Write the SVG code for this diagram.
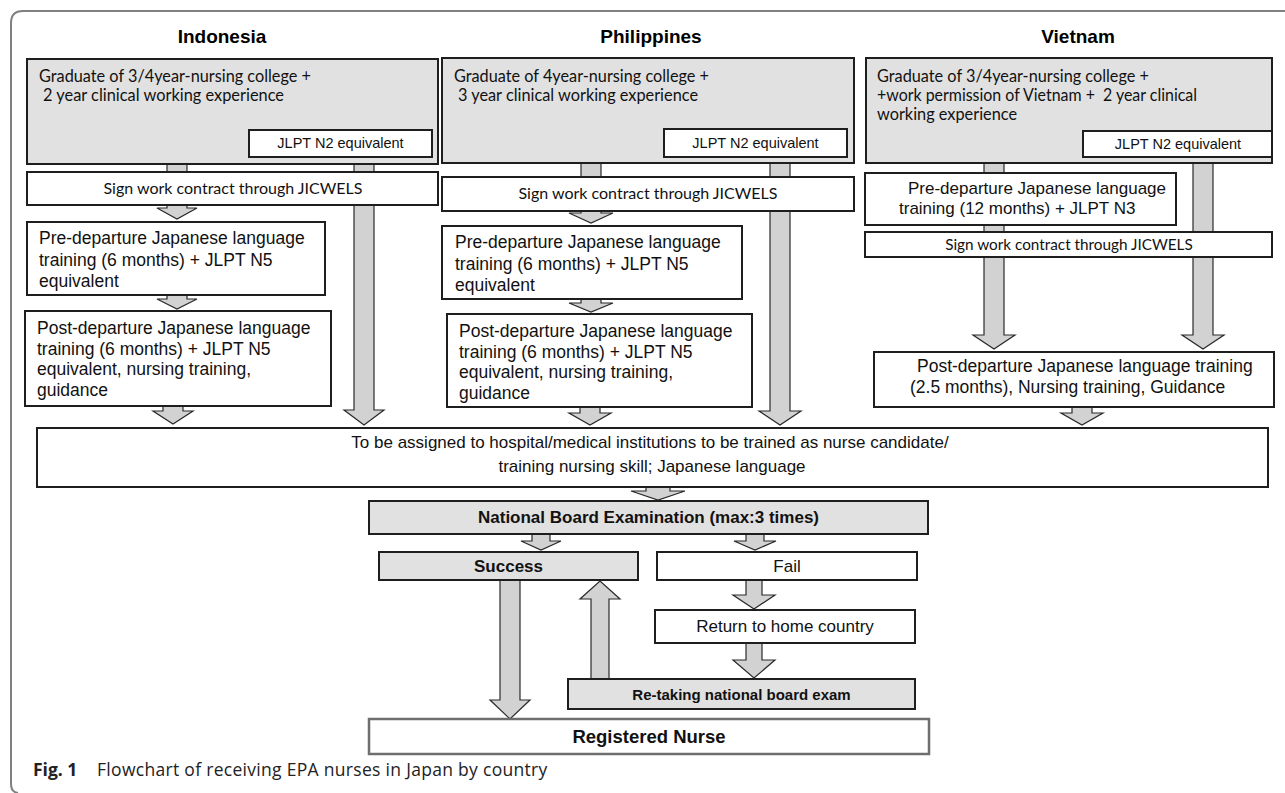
<svg xmlns="http://www.w3.org/2000/svg" width="1285" height="793" viewBox="0 0 1285 793">
<style>
.bg{fill:#ffffff}
.frame{fill:none;stroke:#808080;stroke-width:2}
.box{fill:#ffffff;stroke:#1e1e1e;stroke-width:2}
.gbox{fill:#e1e1e1;stroke:#1e1e1e;stroke-width:2}
.rn{fill:#ffffff;stroke:#6e6e6e;stroke-width:2.5}
.arr{fill:#d2d2d2;stroke:#2a2a2a;stroke-width:1.2;stroke-linejoin:miter}
.title{font-family:"Liberation Sans",Arial,sans-serif;font-weight:bold;font-size:19px;fill:#000;text-anchor:middle}
.cal{font-family:Lato,"Open Sans",sans-serif;font-size:16.5px;fill:#111}
.calc{font-family:Lato,"Open Sans",sans-serif;font-size:16px;fill:#111;text-anchor:middle}
.ar{font-family:"Liberation Sans",Arial,sans-serif;font-size:17.5px;fill:#111}
.arc{font-family:"Liberation Sans",Arial,sans-serif;font-size:17px;fill:#111;text-anchor:middle}
.small{font-family:"Liberation Sans",Arial,sans-serif;font-size:14.5px;fill:#111;text-anchor:middle}
.bold{font-family:"Liberation Sans",Arial,sans-serif;font-weight:bold;font-size:17px;fill:#111;text-anchor:middle}
.cap{font-family:"Open Sans","Noto Sans",sans-serif;font-size:17.5px;fill:#222}
</style>
<rect class="bg" x="0" y="0" width="1285" height="793"/>
<path class="frame" d="M1285 11 H23 Q11 11 11 23 V784 Q11 792 18 793"/>

<g id="titles">
<text class="title" x="222" y="43">Indonesia</text>
<text class="title" x="651" y="43">Philippines</text>
<text class="title" x="1078" y="43">Vietnam</text>
</g>

<g id="connectors">
<path class="arr" d="M167 160 V208 H157 L177 219 L197 208 H187 V160 Z"/>
<path class="arr" d="M167 295 V299 H157 L177 309 L197 299 H187 V295 Z"/>
<path class="arr" d="M163 406 V411 H153 L173 424 L193 411 H183 V406 Z"/>
<path class="arr" d="M354 155 V410 H344 L364 425 L384 410 H374 V155 Z"/>
<path class="arr" d="M581 160 V213 H569 L591 223 L613 213 H601 V160 Z"/>
<path class="arr" d="M581 299 V303 H569 L591 312 L613 303 H601 V299 Z"/>
<path class="arr" d="M580 407 V413 H569 L590 425 L611 413 H600 V407 Z"/>
<path class="arr" d="M770 155 V411 H759 L780 425 L801 411 H790 V155 Z"/>
<path class="arr" d="M984 160 V335 H973 L994 349 L1015 335 H1004 V160 Z"/>
<path class="arr" d="M1193 155 V335 H1182 L1203 349 L1224 335 H1213 V155 Z"/>
<path class="arr" d="M1072 407 V413 H1061 L1082 425 L1103 413 H1092 V407 Z"/>
<path class="arr" d="M646 487 V491 H631 L658 500 L685 491 H670 V487 Z"/>
<path class="arr" d="M532 534 V541 H521 L541 550 L561 541 H550 V534 Z"/>
<path class="arr" d="M746 534 V541 H734 L755 550 L776 541 H764 V534 Z"/>
<path class="arr" d="M746 580 V595 H733 L754 609 L775 595 H762 V580 Z"/>
<path class="arr" d="M746 643 V660 H733 L754 678 L775 660 H762 V643 Z"/>
<path class="arr" d="M591 679 V599 H580 L600 581 L620 599 H609 V679 Z"/>
<path class="arr" d="M500 580 V700 H490 L510 719 L530 700 H520 V580 Z"/>
</g>

<g id="ind-qual">
<rect class="gbox" x="27" y="59" width="411" height="105"/>
<text class="cal" x="39" y="82" textLength="272" lengthAdjust="spacingAndGlyphs">Graduate of 3/4year-nursing college +</text>
<text class="cal" x="43" y="101" textLength="241" lengthAdjust="spacingAndGlyphs">2 year clinical working experience</text>
</g>
<g id="ind-jlpt">
<rect class="box" x="249" y="130" width="183" height="27"/>
<text class="small" x="340.5" y="148">JLPT N2 equivalent</text>
</g>
<g id="ind-contract">
<rect class="box" x="27" y="172" width="411" height="33"/>
<text class="calc" x="233" y="194">Sign work contract through JICWELS</text>
</g>
<g id="ind-pre">
<rect class="box" x="27" y="222" width="298" height="73"/>
<text class="ar" x="39" y="244">Pre-departure Japanese language</text>
<text class="ar" x="39" y="265.5">training (6 months) + JLPT N5</text>
<text class="ar" x="39" y="287">equivalent</text>
</g>
<g id="ind-post">
<rect class="box" x="25" y="311" width="306" height="95"/>
<text class="ar" x="37" y="334">Post-departure Japanese language</text>
<text class="ar" x="37" y="354.5">training (6 months) + JLPT N5</text>
<text class="ar" x="37" y="375">equivalent, nursing training,</text>
<text class="ar" x="37" y="395.5">guidance</text>
</g>

<g id="phi-qual">
<rect class="gbox" x="442" y="58" width="412" height="105"/>
<text class="cal" x="454" y="82" textLength="255" lengthAdjust="spacingAndGlyphs">Graduate of 4year-nursing college +</text>
<text class="cal" x="458" y="101" textLength="240" lengthAdjust="spacingAndGlyphs">3 year clinical working experience</text>
</g>
<g id="phi-jlpt">
<rect class="box" x="664" y="129" width="183" height="28"/>
<text class="small" x="755.5" y="147.5">JLPT N2 equivalent</text>
</g>
<g id="phi-contract">
<rect class="box" x="442" y="177" width="412" height="34"/>
<text class="calc" x="648" y="199">Sign work contract through JICWELS</text>
</g>
<g id="phi-pre">
<rect class="box" x="442" y="226" width="300" height="73"/>
<text class="ar" x="455" y="248">Pre-departure Japanese language</text>
<text class="ar" x="455" y="269.5">training (6 months) + JLPT N5</text>
<text class="ar" x="455" y="291">equivalent</text>
</g>
<g id="phi-post">
<rect class="box" x="447" y="314" width="305" height="93"/>
<text class="ar" x="459" y="337">Post-departure Japanese language</text>
<text class="ar" x="459" y="357.5">training (6 months) + JLPT N5</text>
<text class="ar" x="459" y="378">equivalent, nursing training,</text>
<text class="ar" x="459" y="398.5">guidance</text>
</g>

<g id="vie-qual">
<rect class="gbox" x="866" y="58" width="406" height="105"/>
<text class="cal" x="877" y="82" textLength="272" lengthAdjust="spacingAndGlyphs">Graduate of 3/4year-nursing college +</text>
<text class="cal" x="877" y="101" textLength="320" lengthAdjust="spacingAndGlyphs">+work permission of Vietnam +&#160; 2 year clinical</text>
<text class="cal" x="877" y="120" textLength="140" lengthAdjust="spacingAndGlyphs">working experience</text>
</g>
<g id="vie-jlpt">
<rect class="box" x="1083" y="131" width="189" height="26"/>
<text class="small" x="1178" y="148.5">JLPT N2 equivalent</text>
</g>
<g id="vie-pre">
<rect class="box" x="865" y="173" width="311" height="52"/>
<text class="ar" x="908" y="193.5" style="font-size:17px">Pre-departure Japanese language</text>
<text class="ar" x="899" y="214" style="font-size:17px">training (12 months) + JLPT N3</text>
</g>
<g id="vie-contract">
<rect class="box" x="865" y="232" width="407" height="25"/>
<text class="calc" x="1069" y="249.5" style="font-size:15.3px">Sign work contract through JICWELS</text>
</g>
<g id="vie-post">
<rect class="box" x="874" y="352" width="400" height="55"/>
<text class="ar" x="917" y="372">Post-departure Japanese language training</text>
<text class="ar" x="910" y="393">(2.5 months), Nursing training, Guidance</text>
</g>

<g id="assign">
<rect class="box" x="37" y="428" width="1231" height="59"/>
<text class="arc" x="650" y="448">To be assigned to hospital/medical institutions to be trained as nurse candidate/</text>
<text class="arc" x="652" y="472">training nursing skill; Japanese language</text>
</g>
<g id="exam">
<rect class="gbox" x="369" y="501" width="559" height="33"/>
<text class="bold" x="648.5" y="523">National Board Examination (max:3 times)</text>
</g>
<g id="success">
<rect class="gbox" x="379" y="552" width="259" height="28"/>
<text class="bold" x="508.5" y="572">Success</text>
</g>
<g id="fail">
<rect class="box" x="657" y="552" width="260" height="28"/>
<text class="arc" x="787" y="572">Fail</text>
</g>
<g id="return">
<rect class="box" x="655" y="610" width="260" height="33"/>
<text class="arc" x="785" y="632">Return to home country</text>
</g>
<g id="retake">
<rect class="gbox" x="568" y="679" width="347" height="30"/>
<text class="bold" x="741.5" y="700" style="font-size:15px">Re-taking national board exam</text>
</g>
<g id="registered">
<rect class="rn" x="369" y="719" width="560" height="35"/>
<text class="bold" x="649" y="743" style="font-size:18.5px">Registered Nurse</text>
</g>

<g id="caption">
<text class="cap" x="33" y="776"><tspan font-weight="bold">Fig. 1</tspan><tspan x="97" letter-spacing="0.3">Flowchart of receiving EPA nurses in Japan by country</tspan></text>
</g>
</svg>
